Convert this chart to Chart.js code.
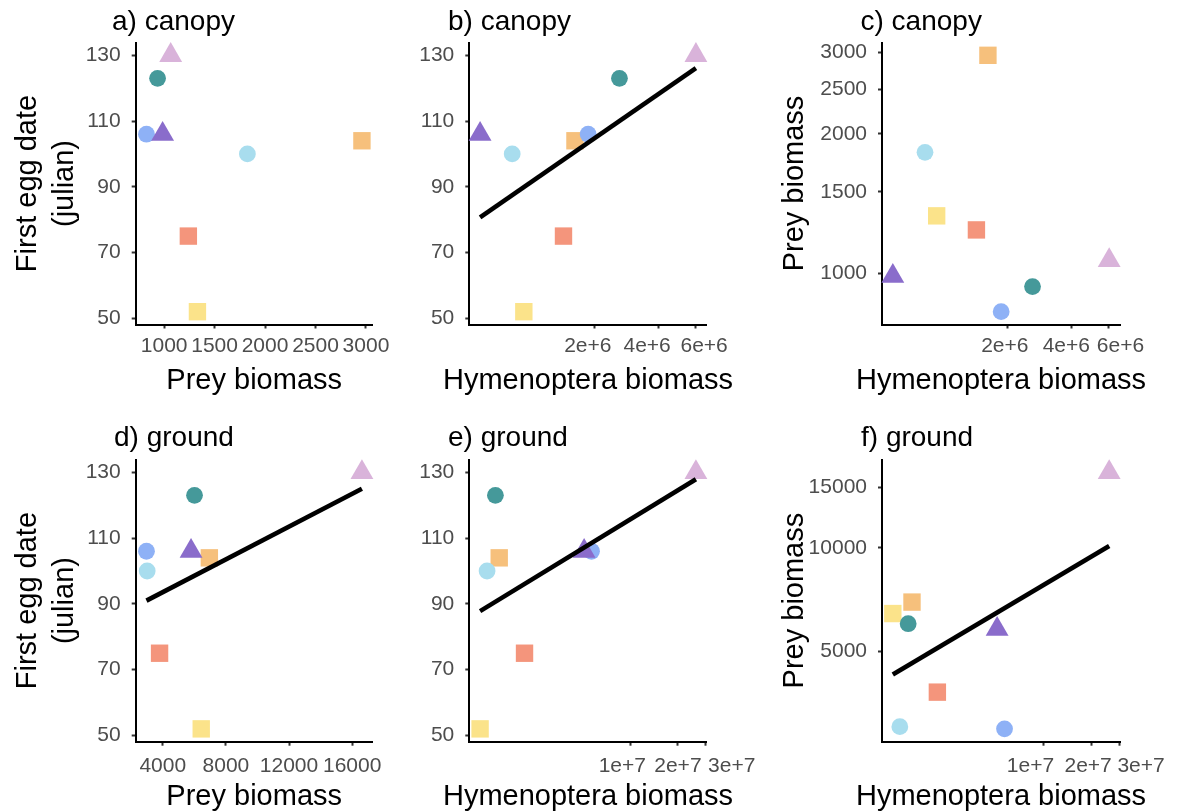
<!DOCTYPE html>
<html>
<head>
<meta charset="utf-8">
<script src="https://cdn.jsdelivr.net/npm/chart.js@4.4.1/dist/chart.umd.min.js"></script>
<style>
  html, body { margin: 0; padding: 0; background: #fff; overflow: hidden; }
  #page { position: relative; width: 1178px; height: 811px; overflow: hidden; }
  #page canvas { position: absolute; }
  .tag { position: absolute; font-family: "Liberation Sans", Arial, sans-serif; font-size: 28px; line-height: 28px; color: #000; white-space: nowrap; }
</style>
</head>
<body>
<div id="page">
  <canvas id="pa" width="508" height="398" style="left:0;top:0"></canvas>
  <canvas id="pb" width="376" height="398" style="left:400px;top:0"></canvas>
  <canvas id="pc" width="482" height="398" style="left:760px;top:0"></canvas>
  <canvas id="pd" width="508" height="396" style="left:0;top:417px"></canvas>
  <canvas id="pe" width="376" height="396" style="left:400px;top:417px"></canvas>
  <canvas id="pf" width="482" height="396" style="left:760px;top:417px"></canvas>
  <div class="tag" style="left:112px;top:7px">a) canopy</div>
  <div class="tag" style="left:448px;top:7px">b) canopy</div>
  <div class="tag" style="left:860.5px;top:7px">c) canopy</div>
  <div class="tag" style="left:114px;top:422.7px">d) ground</div>
  <div class="tag" style="left:448px;top:422.7px">e) ground</div>
  <div class="tag" style="left:861px;top:422.7px">f) ground</div>
</div>
<script>
// ---- data, one entry per site ----
// order: squares (orange, salmon, yellow), circles (blue, light blue, teal), triangles (purple, pink)
var siteColours = ['#F6C07C', '#F4957C', '#FBE38A', '#8EB1F6', '#A8DDEE', '#45999A', '#8A6CCB', '#D9B3DA'];
var siteShapes  = ['rect', 'rect', 'rect', 'circle', 'circle', 'circle', 'triangle', 'triangle'];
var siteSizes   = [12.3, 12.3, 12.3, 8.4, 8.4, 8.4, 13.2, 13.2];

var firstEgg   = [104, 75, 52, 106, 100, 123, 106, 130];
var canopyPrey = [2960, 1240, 1330, 825, 1825, 935, 985, 1065];
var canopyHym  = [1.61e6, 1.42e6, 9.2e5, 1.86e6, 8.1e5, 2.62e6, 5.7e5, 6.05e6];
var groundPrey = [6950, 3795, 6435, 2965, 3010, 6010, 5790, 16620];
var groundHym  = [1.48e6, 2.14e6, 1.12e6, 5.68e6, 1.24e6, 1.4e6, 5.1e6, 2.6e7];

// fitted lines (end points)
var fitB = { x: [5.7e5, 6.05e6], y: [80.7, 126.1] };
var fitD = { x: [2965, 16620], y: [91.0, 125.0] };
var fitE = { x: [1.12e6, 2.6e7], y: [87.8, 127.9] };
var fitF = { x: [1.12e6, 2.6e7], y: [4275, 10130] };

// ticks
var eggTicks = [50, 70, 90, 110, 130];
var eggLabels = ['50', '70', '90', '110', '130'];
var canopyPreyTicks = [1000, 1500, 2000, 2500, 3000];
var canopyPreyLabels = ['1000', '1500', '2000', '2500', '3000'];
var canopyHymTicks = [2e6, 4e6, 6e6];
var canopyHymLabels = ['2e+6', '4e+6', '6e+6'];
var groundPreyTicks = [4000, 8000, 12000, 16000];
var groundPreyLabels = ['4000', '8000', '12000', '16000'];
var groundPreyLogTicks = [5000, 10000, 15000];
var groundPreyLogLabels = ['5000', '10000', '15000'];
var groundHymTicks = [1e7, 2e7, 3e7];
var groundHymLabels = ['1e+7', '2e+7', '3e+7'];

var FONT = "'Liberation Sans', Arial, sans-serif";

// ggplot style 5% expansion of the data range
function expandRange(values, log) {
  var lo = Math.min.apply(null, values), hi = Math.max.apply(null, values);
  if (log) { lo = Math.log10(lo); hi = Math.log10(hi); }
  var pad = (hi - lo) * 0.05;
  lo -= pad; hi += pad;
  return log ? [Math.pow(10, lo), Math.pow(10, hi)] : [lo, hi];
}

function axis(o) {
  var range = expandRange(o.values, o.log);
  var left = o.pos === 'left';
  return {
    type: o.log ? 'logarithmic' : 'linear',
    position: o.pos,
    min: range[0],
    max: range[1],
    afterBuildTicks: function(s) { s.ticks = o.ticks.map(function(v) { return { value: v }; }); },
    afterFit: function(s) { if (left) s.width = o.size; else s.height = o.size; },
    border: { display: true, color: '#000', width: 2 },
    grid: { display: true, drawOnChartArea: false, drawTicks: true, tickLength: 4, tickWidth: 2, tickColor: '#333' },
    ticks: {
      autoSkip: false, maxRotation: 0, minRotation: 0,
      padding: o.tickPad, color: '#4d4d4d',
      font: { family: FONT, size: 21 },
      callback: function(v, i) { return o.labels[i]; }
    },
    title: {
      display: !!o.title,
      text: o.title || '',
      color: '#000',
      font: { family: FONT, size: 29, lineHeight: o.titleLh || 1.2 },
      padding: o.titlePad || 0
    }
  };
}

// spreads crowded x tick labels apart, as in the figure
function nudgeLabels(dx) {
  return {
    id: 'nudgeLabels',
    beforeDraw: function(chart) {
      if (!dx) return;
      var items = chart.scales.x.getLabelItems(chart.chartArea);
      if (items._nudged) return;
      items.forEach(function(it, i) { it.options.translation[0] += dx[i] || 0; });
      items._nudged = true;
    }
  };
}

// x axis title, centred under the plot area (wider than the panel, so not squeezed)
function xTitle(text, gap) {
  return {
    id: 'xTitle',
    afterDraw: function(chart) {
      var ca = chart.chartArea, ctx = chart.ctx;
      ctx.save();
      ctx.font = '29px ' + FONT;
      ctx.fillStyle = '#000';
      ctx.textAlign = 'center';
      ctx.textBaseline = 'alphabetic';
      ctx.fillText(text, (ca.left + ca.right) / 2, ca.bottom + gap);
      ctx.restore();
    }
  };
}

var rows = {
  top:    { xSize: 73.5, tickPad: 5.1, titleGap: 64.5 },
  bottom: { xSize: 71.3, tickPad: 7.5, titleGap: 62.8 }
};

function panel(id, row, xText, xAxis, yAxis, xs, ys, fit, padRight, dx) {
  var datasets = [{
    type: 'scatter',
    data: xs.map(function(x, i) { return { x: x, y: ys[i] }; }),
    pointStyle: siteShapes,
    pointRadius: siteSizes,
    pointBackgroundColor: siteColours,
    pointBorderWidth: 0,
    clip: false,
    order: 1
  }];
  if (fit) {
    datasets.push({
      type: 'line',
      data: [{ x: fit.x[0], y: fit.y[0] }, { x: fit.x[1], y: fit.y[1] }],
      borderColor: '#000',
      borderWidth: 4.6,
      pointRadius: 0,
      fill: false,
      clip: false,
      order: 0
    });
  }
  new Chart(document.getElementById(id), {
    type: 'scatter',
    data: { datasets: datasets },
    options: {
      responsive: false,
      devicePixelRatio: 1,
      animation: false,
      events: [],
      layout: { padding: { top: 42.5, right: padRight, bottom: 0, left: 0 } },
      plugins: { legend: { display: false }, tooltip: { enabled: false }, title: { display: false } },
      scales: { x: xAxis, y: yAxis }
    },
    plugins: [nudgeLabels(dx), xTitle(xText, rows[row].titleGap)]
  });
}

var eggTitle = ['First egg date', '(julian)'];

// a) canopy: first egg vs prey biomass
panel('pa', 'top', 'Prey biomass',
  axis({ pos: 'bottom', values: canopyPrey, ticks: canopyPreyTicks, labels: canopyPreyLabels, size: rows.top.xSize, tickPad: rows.top.tickPad }),
  axis({ pos: 'left', values: firstEgg, ticks: eggTicks, labels: eggLabels, size: 135.7, tickPad: 11, title: eggTitle, titleLh: 1.27, titlePad: { top: 9.4 } }),
  canopyPrey, firstEgg, null, 135.3, null);

// b) canopy: first egg vs hymenoptera biomass
panel('pb', 'top', 'Hymenoptera biomass',
  axis({ pos: 'bottom', log: true, values: canopyHym, ticks: canopyHymTicks, labels: canopyHymLabels, size: rows.top.xSize, tickPad: rows.top.tickPad }),
  axis({ pos: 'left', values: firstEgg, ticks: eggTicks, labels: eggLabels, size: 69.3, tickPad: 11 }),
  canopyHym, firstEgg, fitB, 69.3, [-7, -11, 9]);

// c) canopy: prey vs hymenoptera biomass
panel('pc', 'top', 'Hymenoptera biomass',
  axis({ pos: 'bottom', log: true, values: canopyHym, ticks: canopyHymTicks, labels: canopyHymLabels, size: rows.top.xSize, tickPad: rows.top.tickPad }),
  axis({ pos: 'left', log: true, values: canopyPrey, ticks: canopyPreyTicks, labels: canopyPreyLabels, size: 122, tickPad: 11, title: 'Prey biomass', titlePad: { top: 17.9 } }),
  canopyHym, canopyPrey, null, 122, [-3, -5, 12]);

// d) ground: first egg vs prey biomass
panel('pd', 'bottom', 'Prey biomass',
  axis({ pos: 'bottom', values: groundPrey, ticks: groundPreyTicks, labels: groundPreyLabels, size: rows.bottom.xSize, tickPad: rows.bottom.tickPad }),
  axis({ pos: 'left', values: firstEgg, ticks: eggTicks, labels: eggLabels, size: 135.7, tickPad: 11, title: eggTitle, titleLh: 1.27, titlePad: { top: 9.4 } }),
  groundPrey, firstEgg, fitD, 135.3, null);

// e) ground: first egg vs hymenoptera biomass
panel('pe', 'bottom', 'Hymenoptera biomass',
  axis({ pos: 'bottom', log: true, values: groundHym, ticks: groundHymTicks, labels: groundHymLabels, size: rows.bottom.xSize, tickPad: rows.bottom.tickPad }),
  axis({ pos: 'left', values: firstEgg, ticks: eggTicks, labels: eggLabels, size: 69.3, tickPad: 11 }),
  groundHym, firstEgg, fitE, 69.3, [-8, 0, 26]);

// f) ground: prey vs hymenoptera biomass
panel('pf', 'bottom', 'Hymenoptera biomass',
  axis({ pos: 'bottom', log: true, values: groundHym, ticks: groundHymTicks, labels: groundHymLabels, size: rows.bottom.xSize, tickPad: rows.bottom.tickPad }),
  axis({ pos: 'left', log: true, values: groundPrey, ticks: groundPreyLogTicks, labels: groundPreyLogLabels, size: 122, tickPad: 11, title: 'Prey biomass', titlePad: { top: 17.9 } }),
  groundHym, groundPrey, fitF, 122, [-13, -3, 22]);
</script>
</body>
</html>
